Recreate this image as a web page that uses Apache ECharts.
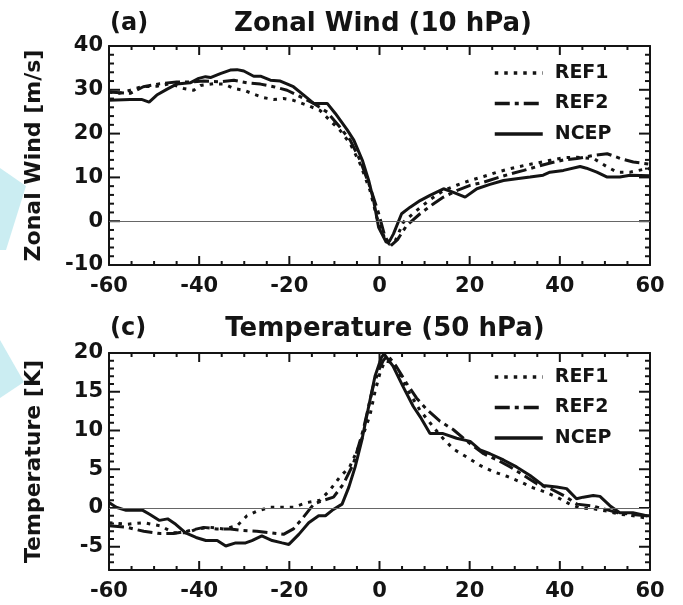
<!DOCTYPE html>
<html>
<head>
<meta charset="utf-8">
<script src="https://cdn.jsdelivr.net/npm/echarts@6/dist/echarts.min.js"></script>
<style>html,body{margin:0;padding:0;background:#fff}#c{width:683px;height:605px}</style>
</head>
<body>
<div id="c"></div>
<script>
// ---------- DATA ----------
const seriesNames = ['REF1', 'REF2', 'NCEP'];
const panelTitles = ['Zonal Wind (10 hPa)', 'Temperature (50 hPa)'];
const panelTags = ['(a)', '(c)'];
const yNames = ['Zonal Wind [m/s]', 'Temperature [K]'];

// tick values (major carry labels)
const xMajorTicks = [-60, -40, -20, 0, 20, 40, 60];
const xMinorTicks = [-55, -50, -45, -35, -30, -25, -15, -10, -5, 5, 10, 15, 25, 30, 35, 45, 50, 55];
const windMajorTicks = [-10, 0, 10, 20, 30, 40];
const windMinorTicks = [-8, -6, -4, -2, 2, 4, 6, 8, 12, 14, 16, 18, 22, 24, 26, 28, 32, 34, 36, 38];
const tempMajorTicks = [-5, 0, 5, 10, 15, 20];
const tempMinorTicks = [-8, -7, -6, -4, -3, -2, -1, 1, 2, 3, 4, 6, 7, 8, 9, 11, 12, 13, 14, 16, 17, 18, 19];

// (a) Zonal wind at 10 hPa [m/s] vs lag
const windRef1Lag = [-60, -57.7, -55.3, -52.8, -49.4, -46.4, -43.4, -41.2, -39.7, -36.7, -34.5, -32.3, -30.1, -27.9, -25.7, -23.5, -21.3, -19.1, -16.1, -13.2, -11, -8.8, -6.5, -4.3, -2.1, -0.6, 1, 2.2, 3.5, 5.3, 8.2, 11.2, 14.2, 17.1, 20.1, 23.1, 26.1, 29, 32, 35, 37.9, 40.9, 43.8, 47.5, 50.5, 52.7, 55.6, 59.3, 60];
const windRef1 = [29.5, 29.2, 29.9, 30.7, 30.8, 31.4, 30.3, 29.9, 31, 31.4, 31.3, 30.3, 29.9, 29, 28.2, 27.8, 28, 27.6, 26.5, 25.3, 23, 20.8, 17.7, 13.1, 7, 0.9, -3.5, -5.3, -4.5, -0.2, 2.4, 4.9, 7, 8.2, 9.3, 10.2, 11.2, 12, 12.7, 13.3, 13.9, 14.5, 14.6, 14.3, 12.4, 11.2, 11.2, 12, 12];
const windRef2Lag = [-60, -55.3, -52.4, -48.7, -45, -42, -39, -35.3, -32.3, -29.4, -26.4, -23.5, -20.5, -17.5, -14.6, -11.6, -8.8, -6.5, -4.3, -2.1, -0.2, 1.2, 2.5, 4, 6, 9, 12, 14.2, 17.1, 20.1, 23.1, 26.1, 29, 32, 35, 37.9, 40.9, 43.8, 47.5, 50.5, 53.5, 56.3, 60];
const windRef2 = [29.5, 29.2, 30.7, 31.4, 31.8, 31.8, 32, 31.8, 32.2, 31.6, 31.3, 30.7, 29.9, 28.4, 26.9, 24.9, 21.5, 18.5, 13.9, 7.8, 1.8, -3.5, -5.6, -4.2, -1, 1.7, 4, 5.5, 7, 8.2, 8.9, 9.9, 10.8, 11.6, 12.5, 13.3, 14, 14.3, 15, 15.4, 14.3, 13.5, 13];
const windNcepLag = [-60, -55.3, -52.8, -51.1, -49.4, -47.2, -45, -42, -40.1, -38.6, -37.5, -35.3, -33.1, -31.6, -30.1, -27.9, -26.4, -24.2, -22, -19.1, -16.8, -14.6, -11.6, -9.8, -7.2, -5.7, -3.8, -2.4, -1.3, -0.2, 1.5, 2.2, 3.1, 4.9, 6.8, 9, 11.2, 14.2, 16.4, 19, 21.6, 24.5, 27.5, 30.4, 33.4, 36.3, 37.8, 40.8, 44.5, 45.9, 48.2, 50.4, 53.3, 55.6, 60];
const windNcep = [27.6, 27.8, 27.8, 27.2, 28.8, 30.1, 31.3, 31.6, 32.6, 33, 32.8, 33.7, 34.5, 34.6, 34.3, 33.1, 33.1, 32.2, 32, 30.7, 28.8, 26.9, 26.9, 24.6, 20.9, 18.5, 13.9, 9.3, 4.7, -1.4, -4.8, -4.6, -2.9, 1.7, 3.2, 4.7, 5.9, 7.4, 6.6, 5.5, 7.4, 8.4, 9.3, 9.7, 10.1, 10.5, 11.2, 11.6, 12.5, 12.1, 11.2, 10.1, 10.1, 10.5, 10.4];

// (c) Temperature at 50 hPa [K] vs lag
const tempRef1Lag = [-60, -56, -52.3, -48.6, -45.7, -42.7, -40.5, -37.5, -34.6, -31.6, -29.4, -27.2, -24.2, -21.3, -19.1, -16.1, -13.2, -11, -8.8, -6.6, -4.3, -2.1, -1, 0.1, 1.2, 2.7, 4.5, 6.7, 9, 11.2, 13.4, 16.4, 19.3, 22.3, 25.2, 28.2, 31.1, 34.1, 37.1, 40, 42.2, 44.5, 47.4, 50.4, 53.3, 56.3, 59.2, 60];
const tempRef1 = [-1.9, -2.1, -1.9, -2.3, -3.2, -3.2, -2.7, -2.5, -2.7, -2.3, -1, -0.4, 0.1, 0.1, 0.1, 0.7, 1, 2.3, 4, 5.3, 8.3, 12, 15, 17.4, 19, 18.8, 17, 14.8, 12.6, 11, 9.4, 7.6, 6.6, 5.5, 4.7, 4.1, 3.4, 2.6, 2, 1.2, 0.5, 0, -0.1, -0.4, -0.8, -1, -1.3, -1.4];
const tempRef2Lag = [-60, -56, -52.3, -48.6, -45.7, -42.7, -39, -36.1, -33.1, -30.2, -27.2, -24.2, -21.3, -19.1, -16.9, -14.6, -12.4, -10.2, -8, -5.8, -3.6, -1.4, 0, 0.8, 1.8, 3.7, 6, 8.2, 10.5, 13.4, 16.4, 20.1, 23.1, 26.1, 29, 32, 35, 37.9, 40.9, 43.8, 46.8, 49.7, 52.7, 55.6, 59.3, 60];
const tempRef2 = [-2.3, -2.5, -3, -3.3, -3.3, -3, -2.5, -2.7, -2.7, -2.9, -3, -3.2, -3.4, -2.7, -1.2, 0.5, 1, 1.4, 3.1, 5.7, 10.1, 15.7, 18, 19, 19.7, 18.3, 16.1, 14.2, 12.7, 11.2, 10.1, 8.3, 7, 6.2, 5.3, 4.2, 3.1, 2.5, 1.6, 0.5, 0.3, -0.1, -0.6, -0.8, -1, -1];
const tempNcepLag = [-60, -58.4, -56.2, -52.5, -51, -48.8, -47, -45.2, -43, -40.7, -38.5, -36, -34.1, -31.9, -29.7, -28.3, -26.1, -23.8, -21.6, -20.1, -17.9, -15.7, -13.5, -12, -10.5, -8.3, -6.8, -5.4, -3.9, -2.4, -1, 0.4, 1, 3, 5.2, 7.5, 9, 11.2, 14.1, 17.1, 20.1, 22.3, 24.5, 27.5, 30.4, 33.4, 36.3, 39.3, 41.5, 43.7, 45.2, 47.4, 48.9, 51.1, 53.3, 56.2, 59.2, 60];
const tempNcep = [0.7, 0.1, -0.3, -0.3, -0.8, -1.6, -1.4, -2.1, -3.2, -3.8, -4.2, -4.2, -4.9, -4.5, -4.5, -4.2, -3.6, -4.2, -4.5, -4.7, -3.4, -1.9, -1, -1, -0.3, 0.5, 2.7, 5.3, 8.8, 13.1, 17, 19.4, 19.9, 18.3, 15.7, 13.1, 11.8, 9.6, 9.6, 9, 8.6, 7.5, 7, 6.2, 5.3, 4.2, 2.9, 2.7, 2.5, 1.2, 1.4, 1.6, 1.5, 0.3, -0.6, -0.6, -1, -1];

// ---------- CHART ----------
const FONT = 'DejaVu Sans';
const INK = '#141414';
const pairs = (xs, ys) => xs.map((x, i) => [x, ys[i]]);
const styles = {
  REF1: { type: [3.5, 6], width: 3 },
  REF2: { type: [15, 5, 4, 5], width: 3 },
  NCEP: { type: 'solid', width: 3 }
};

const chart = echarts.init(document.getElementById('c'));

function axisLine() { return { show: true, onZero: false, lineStyle: { color: INK, width: 2 } }; }
function labelStyle(extra) {
  return Object.assign({ show: true, color: INK, fontFamily: FONT, fontWeight: 'bold', fontSize: 21 }, extra);
}

function xAxisPair(gridIndex) {
  function base() {
    return { type: 'value', gridIndex, min: -60, max: 60, interval: 20,
      axisLine: axisLine(), axisTick: { show: false }, minorTick: { show: false },
      splitLine: { show: false } };
  }
  return [
    Object.assign(base(), { position: 'bottom', axisLabel: labelStyle({ margin: 11 }) }),
    Object.assign(base(), { position: 'top', axisLabel: { show: false } })
  ];
}

const xAxes = [...xAxisPair(0), ...xAxisPair(1)];

const yAxes = [
  {
    type: 'value', gridIndex: 0, position: 'left', min: -10, max: 40, interval: 10,
    axisLine: axisLine(), axisTick: { show: false }, minorTick: { show: false },
    axisLabel: labelStyle({ margin: 6 }), splitLine: { show: false }
  },
  {
    type: 'value', gridIndex: 0, position: 'right', min: -10, max: 40, interval: 10,
    axisLine: axisLine(), axisTick: { show: false }, minorTick: { show: false },
    axisLabel: { show: false }, splitLine: { show: false }
  },
  {
    type: 'value', gridIndex: 1, position: 'left', min: -8, max: 20, splitNumber: 6,
    axisLine: axisLine(), axisTick: { show: false }, minorTick: { show: false },
    axisLabel: labelStyle({ margin: 6, showMinLabel: false }), splitLine: { show: false }
  },
  {
    type: 'value', gridIndex: 1, position: 'right', min: -8, max: 20, splitNumber: 6,
    axisLine: axisLine(), axisTick: { show: false }, minorTick: { show: false },
    axisLabel: { show: false }, splitLine: { show: false }
  }
];

function makeSeries(name, xi, yi, data, withZero) {
  const s = {
    name, type: 'line', xAxisIndex: xi, yAxisIndex: yi, data, symbol: 'none',
    lineStyle: { color: INK, width: styles[name].width, type: styles[name].type },
    itemStyle: { color: INK }
  };
  if (withZero) {
    s.markLine = {
      silent: true, symbol: ['none', 'none'], label: { show: false },
      lineStyle: { color: '#666', width: 1.2, type: 'solid' },
      data: [{ yAxis: 0 }]
    };
  }
  return s;
}

// Tick marks on all four sides of a panel, placed through the panel's own scales.
// kind: 0 = x major, 1 = x minor, 2 = y major, 3 = y minor
function tickRows(yMajor, yMinor) {
  return [
    ...xMajorTicks.map(v => [v, 0]), ...xMinorTicks.map(v => [v, 1]),
    ...yMajor.map(v => [v, 2]), ...yMinor.map(v => [v, 3])
  ];
}
function tickSeries(xi, yi, rows) {
  return {
    type: 'custom', xAxisIndex: xi, yAxisIndex: yi, silent: true, z: 4,
    data: rows,
    renderItem(params, api) {
      const cs = params.coordSys;
      const v = api.value(0);
      const kind = api.value(1);
      const st = { stroke: INK, lineWidth: 2 };
      const children = [];
      if (kind < 2) {
        const len = kind === 0 ? 9 : 4;
        const px = api.coord([v, 0])[0];
        const bot = cs.y + cs.height, top = cs.y;
        children.push({ type: 'line', shape: { x1: px, y1: bot, x2: px, y2: bot - len }, style: st });
        children.push({ type: 'line', shape: { x1: px, y1: top, x2: px, y2: top + len }, style: st });
      } else {
        const len = kind === 2 ? 11 : 5;
        const py = api.coord([0, v])[1];
        const l = cs.x, r = cs.x + cs.width;
        children.push({ type: 'line', shape: { x1: l, y1: py, x2: l + len, y2: py }, style: st });
        children.push({ type: 'line', shape: { x1: r, y1: py, x2: r - len, y2: py }, style: st });
      }
      return { type: 'group', children };
    }
  };
}

const series = [
  makeSeries('REF1', 0, 0, pairs(windRef1Lag, windRef1), true),
  makeSeries('REF2', 0, 0, pairs(windRef2Lag, windRef2), false),
  makeSeries('NCEP', 0, 0, pairs(windNcepLag, windNcep), false),
  makeSeries('REF1', 2, 2, pairs(tempRef1Lag, tempRef1), true),
  makeSeries('REF2', 2, 2, pairs(tempRef2Lag, tempRef2), false),
  makeSeries('NCEP', 2, 2, pairs(tempNcepLag, tempNcep), false),
  tickSeries(0, 0, tickRows(windMajorTicks, windMinorTicks)),
  tickSeries(2, 2, tickRows(tempMajorTicks, tempMinorTicks))
];

function legendAt(top) {
  return {
    data: seriesNames, orient: 'vertical', left: 488, top,
    itemWidth: 48, itemHeight: 14, itemGap: 10.5, selectedMode: false,
    lineStyle: { width: 3.5 },
    itemStyle: { color: 'rgba(0,0,0,0)', borderColor: 'rgba(0,0,0,0)', borderWidth: 0, opacity: 0 },
    textStyle: { color: INK, fontFamily: FONT, fontWeight: 'bold', fontSize: 19, lineHeight: 20, padding: [0, 0, 0, 7] }
  };
}

const titleFont = 'bold 26px "DejaVu Sans"';
const tagFont = 'bold 24px "DejaVu Sans"';
const nameFont = 'bold 22px "DejaVu Sans"';
function txt(x, y, text, font, align, rotation) {
  return { type: 'text', x, y, rotation: rotation || 0, silent: true,
    style: { text, font, fill: INK, align, verticalAlign: 'middle', textAlign: align, textVerticalAlign: 'middle' } };
}

chart.setOption({
  animation: false,
  grid: [
    { left: 109, top: 46, width: 541, height: 219 },
    { left: 109, top: 353, width: 541, height: 217 }
  ],
  xAxis: xAxes,
  yAxis: yAxes,
  legend: [legendAt(58), legendAt(362)],
  series,
  graphic: [
    { type: 'polygon', silent: true, shape: { points: [[0, 168], [26, 186], [6, 250], [0, 250]] },
      style: { fill: 'rgba(160,222,232,0.55)' } },
    { type: 'polygon', silent: true, shape: { points: [[0, 340], [24, 382], [0, 398]] },
      style: { fill: 'rgba(160,222,232,0.55)' } },
    txt(110, 24, panelTags[0], tagFont, 'left'),
    txt(383, 24, panelTitles[0], titleFont, 'center'),
    txt(110, 329, panelTags[1], tagFont, 'left'),
    txt(385, 329, panelTitles[1], titleFont, 'center'),
    txt(34, 155.5, yNames[0], nameFont, 'center', Math.PI / 2),
    txt(34, 461.5, yNames[1], nameFont, 'center', Math.PI / 2)
  ]
});
</script>
</body>
</html>
